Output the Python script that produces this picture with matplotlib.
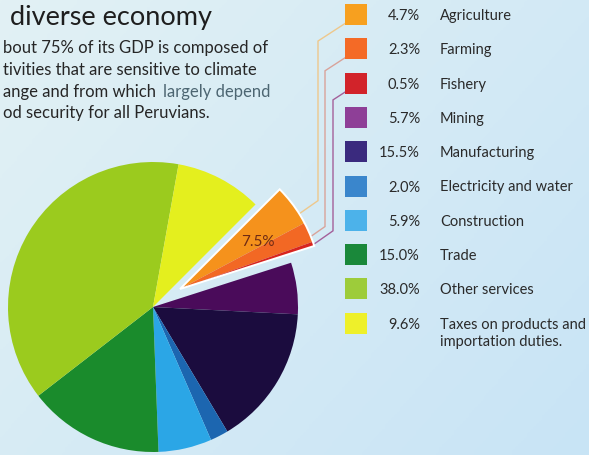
import numpy as np
import matplotlib.pyplot as plt
from matplotlib.patches import Rectangle, Wedge
from matplotlib.colors import LinearSegmentedColormap

plt.rcParams['font.family'] = ['Lato', 'DejaVu Sans']

# GDP by sector (%)
sectors = ['Agriculture', 'Farming', 'Fishery', 'Mining', 'Manufacturing',
           'Electricity and water', 'Construction', 'Trade', 'Other services',
           'Taxes on products and\nimportation duties.']
shares = [4.7, 2.3, 0.5, 5.7, 15.5, 2.0, 5.9, 15.0, 38.0, 9.6]
n_primary = 3  # agriculture + farming + fishery, pulled out of the pie

title = 'diverse economy'
intro = ['bout 75% of its GDP is composed of',
         'tivities that are sensitive to climate',
         'ange and from which ',
         'od security for all Peruvians.']
intro_soft = 'largely depend'

pie_colors = ['#f5921c', '#f26824', '#d8241e', '#4a0b5a', '#1b0c3e',
              '#1c66b0', '#2ba6e6', '#1a8b2c', '#9bcb1e', '#e4ef1e']
key_colors = ['#f7a01f', '#f46a26', '#d2232a', '#8e3f97', '#3a2a7e',
              '#3a86cc', '#4cb2ea', '#1a883a', '#9dcc3a', '#eef02a']
line_colors = ['#eec88c', '#d9a39a', '#a4609a']

W, H = 589, 456
fig = plt.figure(figsize=(W / 100, H / 100), dpi=100)
ax = fig.add_axes([0, 0, 1, 1])

# pale blue page
gx, gy = np.meshgrid(np.linspace(0, 1, 200), np.linspace(0, 1, 160))
bg = LinearSegmentedColormap.from_list('bg', ['#e2f1f4', '#c8e4f6'])
ax.imshow(0.6 * gx + 0.4 * gy, extent=[0, W, 0, H], cmap=bg,
          aspect='auto', origin='upper', zorder=0)

cx, cy, R = 153, 148, 145
wedges, _ = ax.pie(shares, colors=pie_colors, radius=R, center=(cx, cy),
                   startangle=45, counterclock=False, frame=True,
                   wedgeprops=dict(linewidth=0, zorder=2))

# pull the primary sectors out as one block
dx, dy = 27, 18
for w in wedges[:n_primary]:
    w.set_center((cx + dx, cy + dy))
    w.set_radius(R - 4)
    w.set_zorder(3)
t_lo = wedges[n_primary - 1].theta1
t_hi = wedges[0].theta2
ax.add_patch(Wedge((cx + dx, cy + dy), R - 4, t_lo, t_hi, fc='none',
                   ec='white', lw=1.4, zorder=4))

mid = np.radians((t_lo + t_hi) / 2)
ax.text(cx + dx + 0.63 * R * np.cos(mid), cy + dy + 0.63 * R * np.sin(mid),
        f'{sum(shares[:n_primary]):.1f}%', ha='center', va='center',
        fontsize=11, color='#6e2a14', zorder=5)

# key
row0, step = H - 15.5, 34.3
sw_x, sw_w, sw_h = 345, 22, 21
for i, (name, val) in enumerate(zip(sectors, shares)):
    yc = row0 - i * step
    ax.add_patch(Rectangle((sw_x, yc - sw_h / 2), sw_w, sw_h,
                           fc=key_colors[i], ec='none', zorder=3))
    ax.text(420, yc - 4.5, f'{val:.1f}%', ha='right', va='baseline',
            fontsize=10.5, color='#2a2a2a')
    for k, part in enumerate(name.split('\n')):
        ax.text(440, yc - 4.5 - 17.5 * k, part, ha='left', va='baseline',
                fontsize=10.5, color='#2a2a2a')

# leader lines from the key to the pulled-out wedges
knees = [318, 325, 333]
for i in range(n_primary):
    w = wedges[i]
    a = np.radians(w.theta1 + 0.25 * (w.theta2 - w.theta1))
    px = cx + dx + (R - 6) * np.cos(a)
    py = cy + dy + (R - 6) * np.sin(a)
    yc = row0 - i * step
    ay = yc - 9
    xv = knees[i]
    xs = [px, xv, xv, sw_x]
    ys = [py, py + (xv - px) * 0.7, ay - (sw_x - xv) * 0.65, ay]
    ax.plot(xs, ys, color=line_colors[i], lw=1.0, zorder=1.5,
            solid_joinstyle='miter')

# heading and intro text
ax.text(10, H - 25, title, fontsize=19.5, color='#1e1e1e', va='baseline')
for k, line in enumerate(intro):
    ax.text(3, H - 53 - 21.8 * k, line, fontsize=12, color='#262626',
            va='baseline')
ax.text(163, H - 53 - 21.8 * 2, intro_soft, fontsize=12, color='#4d6672',
        va='baseline')

ax.set_xlim(0, W)
ax.set_ylim(0, H)
ax.set_aspect('auto')
ax.axis('off')

fig.savefig('out.png', dpi=100)
